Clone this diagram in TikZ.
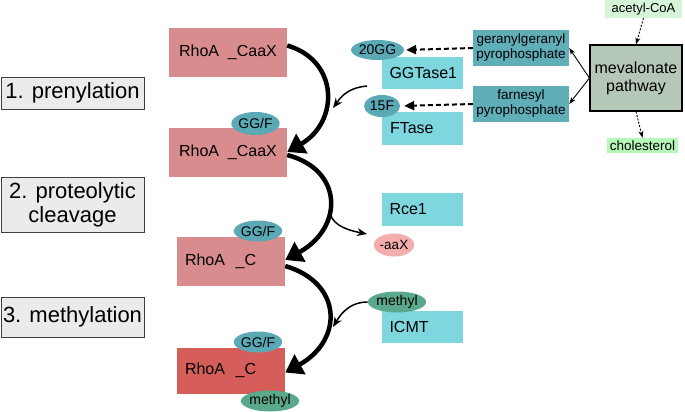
\documentclass[tikz,border=0pt]{standalone}
\usepackage{fontspec}
\setmainfont{Liberation Sans}
\usetikzlibrary{arrows.meta,shapes.geometric}
\definecolor{rhoapink}{HTML}{D98C8E}
\definecolor{rhoared}{HTML}{D65E5A}
\definecolor{tealell}{HTML}{5AA9B5}
\definecolor{methgreen}{HTML}{5BA98D}
\definecolor{enzcyan}{HTML}{7ED6DE}
\definecolor{ppteal}{HTML}{60AEB8}
\definecolor{mevgray}{HTML}{B5C8B8}
\definecolor{lightgreen}{HTML}{D6F5D8}
\definecolor{aaxpink}{HTML}{F4AEAE}
\tikzset{rhoa/.style={rectangle,fill=rhoapink,inner sep=0pt,minimum width=118pt,minimum height=49pt,font=\fontsize{16}{18}\selectfont}}
\tikzset{rhoc/.style={rhoa,minimum width=108pt,inner xsep=8pt,text width=92pt,align=left}}
\tikzset{tag/.style={ellipse,inner sep=0pt,minimum height=21pt,font=\fontsize{14}{16}\selectfont}}
\tikzset{enzyme/.style={rectangle,fill=enzcyan,inner sep=0pt,inner xsep=8pt,text width=65pt,align=left,minimum height=32pt,font=\fontsize{16}{18}\selectfont}}
\tikzset{stepbox/.style={rectangle,draw=black!75,line width=1pt,fill=black!8,inner sep=0pt,minimum width=143pt,align=center,font=\fontsize{22}{24}\selectfont}}
\tikzset{ppbox/.style={rectangle,fill=ppteal,inner sep=0pt,minimum width=96pt,minimum height=36pt,align=center,font=\fontsize{13.5}{15}\selectfont}}
\tikzset{bigarrow/.style={line width=4.5pt,-{Triangle[length=17pt,width=22pt]}}}
\tikzset{smallarrow/.style={line width=1.5pt,-{Stealth[length=10pt,width=8pt]}}}
\tikzset{dasharrow/.style={line width=2pt,dash pattern=on 5pt off 3pt,-{Triangle[length=10pt,width=9pt]}}}
\tikzset{thinarrow/.style={line width=0.9pt,-{Stealth[length=7pt,width=5pt]}}}
\tikzset{dotarrow/.style={line width=0.9pt,dash pattern=on 2pt off 1.5pt,-{Stealth[length=7pt,width=5pt]}}}

\begin{document}
\begin{tikzpicture}[x=1pt,y=-1pt]
    \useasboundingbox (0,0) rectangle (685,412);
    % RhoA states
    \node[rhoa] (caax1) at (228,52.5) {RhoA\ \ \_CaaX};
    \node[rhoa] (caax2) at (228,152) {RhoA\ \ \_CaaX};
    \node[rhoc] (rc) at (231,261.5) {RhoA\ \ \_C};
    \node[rhoc,fill=rhoared,minimum height=46pt] (rcm) at (231,370.5) {RhoA\ \ \_C};
    \node[tag,fill=tealell,minimum width=45pt,minimum height=23pt] (ggf2) at (255.5,123.5) {GG/F};
    \node[tag,fill=tealell,minimum width=44pt] (ggf3) at (258,231) {GG/F};
    \node[tag,fill=tealell,minimum width=44pt] (ggf4) at (258,342) {GG/F};
    \node[tag,fill=methgreen,minimum width=52pt] (meth4) at (270,401) {methyl};
    % steps
    \node[stepbox,minimum height=32pt] (step1) at (72.5,93) {1. prenylation};
    \node[stepbox,minimum height=55pt] (step2) at (72.5,204.5) {2. proteolytic\\cleavage};
    \node[stepbox,minimum height=40pt] (step3) at (72.5,317) {3. methylation};
    % enzymes
    \node[enzyme] (ggtase) at (422,73) {GGTase1};
    \node[enzyme,minimum height=33pt] (ftase) at (422.5,128.5) {FTase};
    \node[enzyme,minimum height=33pt] (rce) at (422,209.5) {Rce1};
    \node[enzyme] (icmt) at (422,327) {ICMT};
    \node[tag,fill=tealell,minimum width=45pt,minimum height=20pt] (gg20) at (377.5,50) {20GG};
    \node[tag,fill=tealell,minimum width=36pt,minimum height=22pt] (f15) at (382,106) {15F};
    \node[tag,fill=aaxpink,minimum width=40pt,minimum height=23pt,font=\fontsize{13.5}{15}\selectfont] (aax) at (394,245) {-aaX};
    \node[tag,fill=methgreen,minimum width=52pt] (meth) at (397,302) {methyl};
    % mevalonate side
    \node[ppbox] (ggpp) at (521,48) {geranylgeranyl\\pyrophosphate};
    \node[ppbox] (fpp) at (521,104) {farnesyl\\pyrophosphate};
    \node[rectangle,draw,line width=1.2pt,fill=mevgray,minimum width=92pt,minimum height=66pt,inner sep=0pt,align=center,font=\fontsize{16}{18}\selectfont] (mev) at (636,78) {mevalonate\\pathway};
    \node[rectangle,fill=lightgreen,minimum width=77pt,minimum height=18pt,inner sep=0pt,font=\fontsize{13}{15}\selectfont] (acoa) at (643.5,9) {acetyl-CoA};
    \node[rectangle,fill=lightgreen!85!green,minimum width=71pt,minimum height=15pt,inner sep=0pt,font=\fontsize{13.5}{15}\selectfont] (chol) at (642.5,145.5) {cholesterol};
    \draw[dotarrow] (acoa.south) -- (mev.north);
    \draw[dotarrow] (mev.south) -- (chol.north);
    \draw[thinarrow] (mev.west) -- (ggpp.east);
    \draw[thinarrow] (mev.west) -- (fpp.east);
    \draw[dasharrow,shorten >=2pt] (ggpp.west) -- (gg20.east);
    \draw[dasharrow,shorten >=4pt] (fpp.west) -- (f15.east);
    % main path
    \draw[bigarrow] ([yshift=7pt]caax1.east) .. controls +(52,15) and +(52,-30) .. (caax2.east);
    \draw[bigarrow] ([yshift=-3pt]caax2.east) .. controls +(57,15) and +(58,-32) .. ([yshift=1.5pt]rc.east);
    \draw[bigarrow] ([yshift=-4.5pt]rc.east) .. controls +(58,17) and +(58,-32) .. ([yshift=-2pt]rcm.east);
    % side arrows
    \coordinate (prenin) at (367,86);
    \coordinate (prenout) at (333,108);
    \coordinate (cutin) at (330,213);
    \coordinate (cutout) at (367,234);
    \coordinate (methout) at (333,327);
    \draw[smallarrow] (prenin) .. controls +(-22,2) and +(6,-8) .. (prenout);
    \draw[smallarrow] (cutin) .. controls +(3,14) and +(-15,-3) .. (cutout);
    \draw[smallarrow] (meth.west) .. controls +(-20,0) and +(6,-10) .. (methout);
\end{tikzpicture}
\end{document}
